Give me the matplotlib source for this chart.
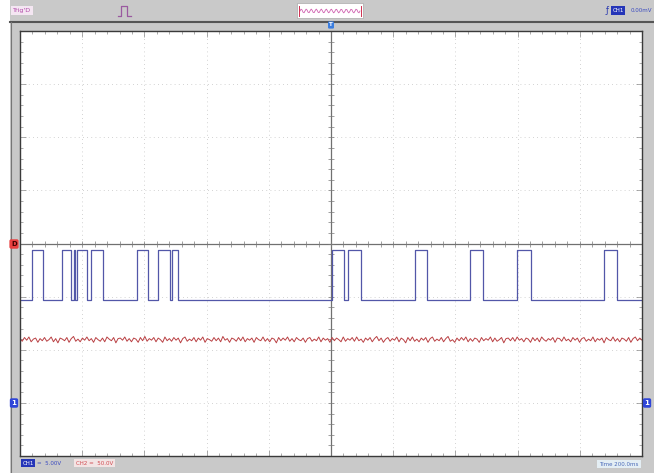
import matplotlib.pyplot as plt
import numpy as np
from matplotlib.patches import Rectangle

W, H = 654, 473

# CH1 logic trace: (rise, fall) times in screen divisions
ch1_edges = [(0.19, 0.37), (0.675, 0.82), (0.87, 0.89), (0.92, 1.08), (1.14, 1.33),
             (1.88, 2.06), (2.22, 2.41), (2.44, 2.54),
             (5.01, 5.21), (5.27, 5.48), (6.35, 6.54), (7.23, 7.44),
             (7.99, 8.22), (9.39, 9.60)]
ch1_high = -0.12
ch1_low = -1.07

# CH2 trace: baseline plus the sampled ripple (divisions)
ch2_level = -1.81
ch2_ripple = [0.02, -0.03, 0.04, -0.01, 0.05, -0.04, 0.01, 0.03, -0.05, 0.02,
              -0.02, 0.04, -0.03, 0.00, 0.05, -0.04, 0.02, -0.06, 0.03, 0.01,
              -0.02, 0.04, -0.05, 0.02, 0.06, -0.03, 0.01, -0.04, 0.03, -0.01,
              0.05, -0.02, 0.02, -0.05, 0.04, 0.00, -0.03, 0.03, -0.04, 0.05,
              0.01, -0.02, 0.04, -0.06, 0.02, 0.03, -0.01, 0.05, -0.03, 0.02,
              -0.04, 0.03, 0.01, -0.05, 0.04, -0.02, 0.06, -0.03, 0.02, -0.01,
              0.04, -0.04, 0.03, 0.00, -0.05, 0.05, -0.02, 0.02, -0.03, 0.04,
              -0.01, 0.03, -0.06, 0.02, 0.05, -0.03, 0.01, -0.02, 0.04, -0.04,
              0.03, -0.01, 0.05, -0.05, 0.02, 0.00, -0.03, 0.04, -0.02, 0.03,
              -0.04, 0.06, -0.01, 0.02, -0.05, 0.03, 0.01, -0.03, 0.04, -0.02,
              0.05, -0.04, 0.02, -0.01, 0.03, -0.05, 0.04, 0.00, -0.02, 0.05,
              -0.03, 0.02, -0.04, 0.03, 0.01, -0.06, 0.04, -0.02, 0.03, -0.01,
              0.05, -0.03, 0.02, -0.04, 0.04, 0.00, -0.02, 0.03, -0.05, 0.02,
              0.04, -0.03, 0.01, -0.02, 0.05, -0.04, 0.03, -0.01, 0.02, -0.05,
              0.04, -0.02, 0.03, 0.00, -0.04, 0.05, -0.03, 0.02, -0.01, 0.04,
              -0.03, 0.05, -0.02, 0.01, -0.05, 0.03, -0.01, 0.04, -0.04, 0.02,
              0.06, -0.02, 0.03, -0.05, 0.01, 0.04, -0.03, 0.02, -0.01, 0.05,
              -0.04, 0.03, 0.00, -0.06, 0.04, -0.02, 0.05, -0.03, 0.01, -0.04,
              0.03, -0.01, 0.04, -0.05, 0.02, 0.05, -0.03, 0.01, -0.02, 0.04,
              -0.04, 0.02, 0.06, -0.03, 0.00, -0.05, 0.03, -0.02, 0.04, -0.01,
              0.05, -0.04, 0.02, -0.03, 0.03, 0.01, -0.05, 0.04, -0.02, 0.02,
              -0.01, 0.05, -0.04, 0.03, -0.03, 0.00, 0.04, -0.06, 0.02, 0.03,
              -0.02, 0.04, -0.03, 0.05, -0.01, 0.02, -0.04, 0.03, 0.01, -0.05,
              0.04, -0.02, 0.03, -0.04, 0.05, 0.00, -0.03, 0.02, -0.01, 0.04,
              -0.05, 0.03, 0.02, -0.03, 0.05, -0.02, 0.01, -0.04, 0.04, -0.01,
              0.03, -0.05, 0.02, 0.04, -0.03, 0.01, -0.02, 0.05, -0.04, 0.02,
              -0.01, 0.03, -0.06, 0.04, 0.00, -0.02, 0.05, -0.03, 0.02, -0.04,
              0.03, 0.01, -0.03, 0.04, -0.05, 0.02, 0.05, -0.02, 0.03, -0.01]

ch1_color = '#5257a8'
ch2_color = '#b94043'


def fx(x):
    return x / W


def fy(y):
    return 1 - y / H


fig = plt.figure(figsize=(W / 100, H / 100), dpi=100, facecolor='white')

# instrument frame
fig.patches.append(Rectangle((fx(10), 0), fx(644), 1, transform=fig.transFigure,
                             facecolor='#c9c9c9', edgecolor='none', zorder=-5))
fig.add_artist(plt.Line2D([fx(10), 1], [fy(22), fy(22)], color='#555555', lw=1.5))
fig.add_artist(plt.Line2D([fx(11), fx(11)], [0, fy(22)], color='#777777', lw=0.8))

ax = fig.add_axes([fx(20), fy(456), fx(622), 425 / H])
ax.set_zorder(2)
ax.set_xlim(0, 10)
ax.set_ylim(-4, 4)
ax.set_facecolor('white')
for s in ax.spines.values():
    s.set_color('#3a3a3a')
    s.set_linewidth(1.0)

ax.set_xticks(np.arange(0, 11, 1))
ax.set_yticks(np.arange(-4, 5, 1))
ax.set_xticks(np.arange(0, 10.01, 0.2), minor=True)
ax.set_yticks(np.arange(-4, 4.01, 0.2), minor=True)
ax.tick_params(which='both', direction='in', top=True, right=True,
               labelbottom=False, labelleft=False, color='#8a8a8a', width=0.5)
ax.tick_params(which='major', length=4)
ax.tick_params(which='minor', length=2.5)
ax.grid(True, which='major', color='#c4c4c4', lw=0.6, ls=(0, (1, 4)))

# centre graticule with division marks
ax.axhline(0, color='#707070', lw=0.9)
ax.axvline(5, color='#707070', lw=0.9)
mt = np.arange(0, 10.01, 0.2)
ax.plot(mt, np.zeros_like(mt), ls='none', marker='|', ms=5, mew=0.5, color='#7a7a7a')
mv = np.arange(-4, 4.01, 0.2)
ax.plot(np.full_like(mv, 5), mv, ls='none', marker='_', ms=5, mew=0.5, color='#7a7a7a')

# CH1 square wave
t = [0.0]
v = [ch1_low]
for r, f in ch1_edges:
    t += [r, r, f, f]
    v += [ch1_low, ch1_high, ch1_high, ch1_low]
t.append(10.0)
v.append(ch1_low)
ax.plot(t, v, color=ch1_color, lw=0.9)

# CH2 ripple
tr = np.linspace(0, 10, len(ch2_ripple))
ax.plot(tr, ch2_level + np.array(ch2_ripple), color=ch2_color, lw=0.7)

# channel / trigger markers
marker_box = dict(boxstyle='round,pad=0.25', ec='none')
fig.text(fx(14), fy(244), 'D', fontsize=5, color='#400000', ha='center', va='center',
         fontweight='bold', zorder=5, bbox=dict(marker_box, fc='#e84040'))
fig.text(fx(14), fy(403), '1', fontsize=5, color='white', ha='center', va='center',
         fontweight='bold', zorder=5, bbox=dict(marker_box, fc='#2f45d8'))
fig.text(fx(647), fy(403), '1', fontsize=5, color='white', ha='center', va='center',
         fontweight='bold', zorder=5, bbox=dict(marker_box, fc='#2f45d8'))
fig.text(fx(331), fy(25), 'T', fontsize=4, color='white', ha='center', va='center',
         fontweight='bold', zorder=5, bbox=dict(boxstyle='round,pad=0.2', fc='#3a7de0', ec='none'))

# top status bar
fig.text(fx(13), fy(10.5), "Trig'D", fontsize=4.5, color='#b04aa8', ha='left', va='center',
         bbox=dict(boxstyle='square,pad=0.35', fc='#f4e6f2', ec='none'))
fig.add_artist(plt.Line2D([fx(118), fx(121), fx(121), fx(127), fx(127), fx(131)],
                          [fy(16), fy(16), fy(6), fy(6), fy(16), fy(16)],
                          color='#9a5aa0', lw=0.9))
fig.patches.append(Rectangle((fx(297), fy(18)), fx(66), 15 / H, transform=fig.transFigure,
                             facecolor='white', edgecolor='#aaaaaa', lw=0.5))
ws = np.linspace(fx(300), fx(360), 60)
fig.add_artist(plt.Line2D(ws, fy(11) + 0.004 * np.sin(np.linspace(0, 24 * np.pi, 60)),
                          color='#d060b0', lw=0.6))
fig.add_artist(plt.Line2D([fx(299), fx(299)], [fy(6), fy(16)], color='#d03050', lw=0.7))
fig.add_artist(plt.Line2D([fx(361), fx(361)], [fy(6), fy(16)], color='#d03050', lw=0.7))
fig.text(fx(607), fy(10.5), 'ƒ', fontsize=6, color='#2a3ab0', ha='center', va='center')
fig.text(fx(618), fy(10.5), 'CH1', fontsize=4, color='white', ha='center', va='center',
         bbox=dict(boxstyle='square,pad=0.3', fc='#2535b8', ec='none'))
fig.text(fx(641), fy(10.5), '0.00mV', fontsize=4, color='#3a4ac0', ha='center', va='center')

# bottom status bar
fig.text(fx(28), fy(463), 'CH1', fontsize=4, color='white', ha='center', va='center',
         bbox=dict(boxstyle='square,pad=0.3', fc='#2535b8', ec='none'))
fig.text(fx(37), fy(463), '=  5.00V', fontsize=4, color='#3a4ac0', ha='left', va='center')
fig.text(fx(76), fy(463), 'CH2 =  50.0V', fontsize=4, color='#d04a50', ha='left', va='center',
         bbox=dict(boxstyle='square,pad=0.35', fc='#f3e4e4', ec='none'))
fig.text(fx(619), fy(464), 'Time 200.0ms', fontsize=4, color='#4a6ab8', ha='center',
         va='center', bbox=dict(boxstyle='square,pad=0.35', fc='#e4eef4', ec='none'))

fig.savefig('out.png', dpi=100, facecolor=fig.get_facecolor())
